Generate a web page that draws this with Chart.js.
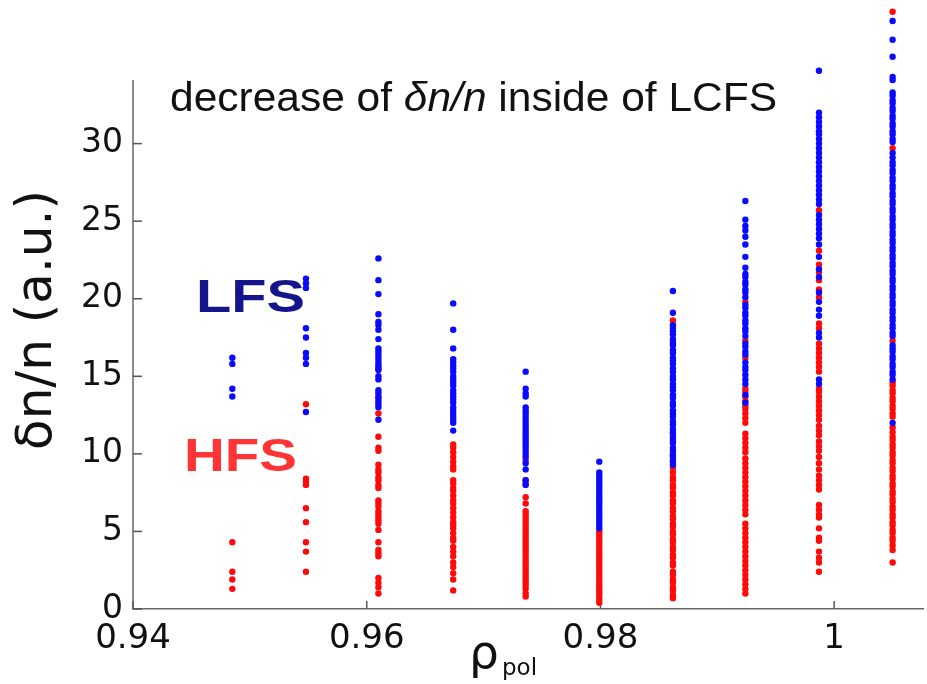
<!DOCTYPE html>
<html>
<head>
<meta charset="utf-8">
<script src="https://cdn.jsdelivr.net/npm/chart.js@4.4.1/dist/chart.umd.min.js"></script>
<style>
    html, body { margin: 0; padding: 0; background: #fff; }
    #wrap { width: 927px; height: 684px; position: relative; }
</style>
</head>
<body>
<div id="wrap"><canvas id="scatterChart"></canvas></div>
<script>
// rho_pol of each measurement column
const rhoPol = [0.9485, 0.9548, 0.9610, 0.9674, 0.9736, 0.9799, 0.9862, 0.9924, 0.9987, 1.0050];

// delta n / n, low field side (blue), one list per column
const lfsValues = [
    [16.2, 15.8, 14.2, 13.7],
    [21.3, 21.0, 20.7, 18.1, 17.5, 16.5, 16.2, 15.8, 12.7],
    [22.6, 21.2, 20.3, 19.0, 18.5, 18.3, 18.0, 17.4, 16.8, 16.6, 16.4, 16.2, 16.0, 15.8, 15.6, 15.4, 15.0, 14.8, 14.1, 13.9, 13.6, 13.4, 13.2, 13.0, 12.2],
    [19.7, 18.0, 16.8, 16.1, 15.9, 15.7, 15.5, 15.3, 15.0, 14.8, 14.6, 14.4, 14.1, 13.9, 13.7, 13.5, 13.3, 13.0, 12.8, 12.6, 12.4, 12.2, 12.0, 11.5],
    [15.3, 14.2, 13.9, 13.7, 13.0, 12.8, 12.6, 12.4, 12.2, 12.0, 11.8, 11.6, 11.4, 11.2, 11.0, 10.8, 10.6, 10.4, 10.2, 10.0, 9.8, 9.4, 9.0, 8.3, 8.0],
    [9.5, 8.8, 8.6, 8.4, 8.2, 8.0, 7.8, 7.6, 7.4, 7.2, 7.0, 6.8, 6.6, 6.4, 6.2, 6.0, 5.8, 5.6, 5.4, 5.2],
    [20.5, 19.1, 18.3, 18.1, 17.9, 17.7, 17.4, 17.2, 17.0, 16.7, 16.5, 16.2, 16.0, 15.8, 15.5, 15.3, 15.0, 14.8, 14.5, 14.3, 14.1, 13.8, 13.6, 13.3, 13.1, 12.8, 12.6, 12.4, 12.1, 11.9, 11.6, 11.4, 11.1, 10.9, 10.7, 10.4, 10.2, 9.9, 9.6, 9.3],
    [26.3, 25.1, 24.7, 24.4, 24.0, 23.5, 22.7, 22.0, 21.6, 21.4, 21.1, 20.9, 20.6, 20.4, 20.1, 19.6, 19.4, 19.1, 18.9, 18.6, 18.4, 18.1, 17.9, 17.6, 17.1, 16.9, 16.6, 16.4, 15.9, 15.6, 15.4, 15.1, 14.8, 14.5, 13.8, 13.3],
    [34.7, 32.0, 31.7, 31.4, 31.1, 30.8, 30.6, 30.3, 30.0, 29.7, 29.4, 29.1, 28.8, 28.5, 28.2, 27.9, 27.6, 27.3, 27.0, 26.7, 26.4, 26.1, 25.4, 25.1, 24.8, 24.5, 24.2, 23.9, 23.5, 22.7, 21.9, 21.4, 20.4, 19.8, 19.3, 18.9, 17.8, 17.5, 14.8, 14.5],
    [37.9, 36.7, 35.6, 34.3, 34.1, 33.3, 33.1, 32.8, 32.6, 32.3, 32.1, 31.8, 31.6, 31.3, 31.1, 30.8, 30.6, 30.3, 30.1, 29.4, 29.1, 28.8, 28.6, 28.3, 28.1, 27.8, 27.6, 27.3, 27.1, 26.8, 26.6, 26.3, 26.1, 25.8, 25.6, 25.3, 25.1, 24.8, 24.6, 24.3, 24.1, 23.8, 23.6, 23.3, 23.1, 22.8, 22.6, 22.3, 22.1, 21.8, 21.6, 21.3, 21.1, 20.8, 20.6, 20.3, 20.1, 19.8, 19.6, 19.3, 19.1, 18.8, 18.6, 18.3, 18.1, 17.8, 17.6, 17.0, 16.8, 16.6, 16.3, 16.1, 15.8, 15.6, 15.3, 15.1, 14.8, 12.0]
];

// delta n / n, high field side (red), one list per column
const hfsValues = [
    [4.3, 2.4, 1.9, 1.3],
    [13.2, 8.4, 8.2, 8.0, 6.5, 5.6, 4.3, 3.7, 2.4],
    [15.5, 13.7, 12.6, 11.1, 10.4, 10.2, 9.3, 9.0, 8.8, 8.5, 8.3, 8.0, 7.8, 7.0, 6.8, 6.6, 6.3, 6.1, 5.9, 5.7, 5.5, 5.1, 4.3, 3.8, 3.6, 3.4, 2.0, 1.7, 1.4, 1.0],
    [10.6, 10.4, 10.1, 9.8, 9.5, 9.2, 9.0, 8.3, 8.1, 7.8, 7.6, 7.3, 7.0, 6.8, 6.5, 6.2, 5.9, 5.6, 5.4, 5.2, 4.9, 4.6, 4.4, 4.0, 3.7, 3.4, 3.0, 2.7, 2.3, 1.9, 1.2],
    [9.6, 8.3, 8.1, 7.2, 6.8, 6.3, 6.1, 5.9, 5.7, 5.5, 5.3, 5.1, 4.9, 4.7, 4.5, 4.3, 4.1, 3.9, 3.7, 3.5, 3.3, 3.1, 2.9, 2.7, 2.5, 2.3, 2.1, 1.9, 1.7, 1.5, 1.3, 1.0, 0.8],
    [5.0, 4.8, 4.6, 4.4, 4.2, 4.0, 3.8, 3.6, 3.4, 3.2, 3.0, 2.8, 2.6, 2.4, 2.2, 2.0, 1.8, 1.6, 1.4, 1.2, 1.0, 0.8, 0.6, 0.4],
    [18.6, 11.3, 10.0, 9.8, 9.5, 9.1, 8.8, 8.5, 8.3, 8.0, 7.8, 7.5, 7.3, 7.0, 6.8, 6.5, 6.3, 6.0, 5.8, 5.5, 5.3, 5.0, 4.8, 4.5, 4.3, 4.0, 3.8, 3.5, 3.3, 3.0, 2.8, 2.4, 2.2, 1.9, 1.7, 1.4, 1.2, 0.9, 0.7],
    [19.8, 17.3, 16.2, 14.2, 14.0, 13.7, 13.4, 13.1, 12.9, 12.6, 12.3, 12.0, 11.3, 11.0, 10.7, 10.4, 10.1, 9.7, 9.4, 9.1, 8.8, 8.5, 8.2, 7.9, 7.6, 7.3, 7.0, 6.7, 6.4, 6.1, 5.5, 5.2, 4.9, 4.6, 4.3, 4.0, 3.7, 3.4, 3.1, 2.8, 2.5, 2.2, 1.9, 1.6, 1.3, 1.0],
    [25.7, 23.1, 22.2, 21.7, 21.2, 20.6, 20.1, 18.4, 18.1, 17.1, 16.8, 16.5, 16.2, 15.9, 15.6, 15.3, 14.2, 14.0, 13.7, 13.4, 13.1, 12.8, 12.5, 12.2, 11.8, 11.5, 11.2, 10.8, 10.5, 10.2, 9.8, 9.4, 9.0, 8.6, 8.3, 8.0, 7.7, 6.7, 6.4, 6.1, 5.9, 5.2, 4.6, 4.4, 3.7, 3.3, 3.0, 2.4],
    [38.5, 29.7, 17.3, 14.6, 14.4, 14.1, 13.9, 13.6, 13.4, 13.1, 12.9, 12.6, 12.4, 11.7, 11.4, 11.1, 10.9, 10.6, 10.4, 10.1, 9.9, 9.6, 9.4, 9.1, 8.9, 8.6, 8.4, 8.1, 7.9, 7.6, 7.4, 7.1, 6.9, 6.6, 6.4, 6.1, 5.9, 5.6, 5.4, 5.1, 4.9, 4.6, 4.4, 4.1, 3.8, 3.0]
];

const xTicks = [0.94, 0.96, 0.98, 1];
const yTicks = [0, 5, 10, 15, 20, 25, 30];
const yAxisTop = 34.1; // drawn axis line stops here, points go above it

const toPoints = (cols) => cols.flatMap((vals, i) => vals.map(v => ({ x: rhoPol[i], y: v })));

// text squeezed/stretched to a target width
function drawFitted(ctx, parts, x, baseline, targetWidth) {
    let total = 0;
    parts.forEach(p => { ctx.font = p.font; total += ctx.measureText(p.text).width; });
    ctx.save();
    ctx.translate(x, baseline);
    ctx.scale(targetWidth / total, 1);
    ctx.textAlign = 'left';
    ctx.textBaseline = 'alphabetic';
    let cx = 0;
    parts.forEach(p => {
        ctx.font = p.font;
        ctx.fillStyle = p.color;
        ctx.fillText(p.text, cx, 0);
        cx += ctx.measureText(p.text).width;
    });
    ctx.restore();
}

// keep chart area fixed: no extra room reserved for edge tick labels
const noEdgePadding = (scale) => {
    scale.paddingTop = 0;
    scale.paddingBottom = 0;
    scale.paddingLeft = 0;
    scale.paddingRight = 0;
};

const decorations = {
    id: 'decorations',
    beforeDatasetsDraw(chart) {
        const ctx = chart.ctx;
        const { x, y } = chart.scales;
        const left = x.getPixelForValue(x.min);
        const bottom = y.getPixelForValue(0);

        ctx.save();
        ctx.strokeStyle = '#666';
        ctx.lineWidth = 1.5;
        // left axis line, only up to yAxisTop
        ctx.beginPath();
        ctx.moveTo(left, bottom);
        ctx.lineTo(left, y.getPixelForValue(yAxisTop));
        ctx.stroke();

        // inward tick marks
        ctx.strokeStyle = '#555';
        xTicks.forEach(v => {
            const px = x.getPixelForValue(v);
            ctx.beginPath();
            ctx.moveTo(px, bottom);
            ctx.lineTo(px, bottom - 8);
            ctx.stroke();
        });
        yTicks.forEach(v => {
            const py = y.getPixelForValue(v);
            ctx.beginPath();
            ctx.moveTo(left, py);
            ctx.lineTo(left + 9, py);
            ctx.stroke();
        });
        ctx.restore();
    },
    afterDraw(chart) {
        const ctx = chart.ctx;

        // title
        const f = '"Liberation Sans", Arial, sans-serif';
        drawFitted(ctx, [
            { text: 'decrease of ', font: `41px ${f}`, color: '#111' },
            { text: 'δn/n', font: `italic 41px ${f}`, color: '#111' },
            { text: ' inside of LCFS', font: `41px ${f}`, color: '#111' }
        ], 170, 111, 607);

        // side labels
        drawFitted(ctx, [{ text: 'LFS', font: `bold 47px ${f}`, color: '#14148c' }], 196, 312, 109);
        drawFitted(ctx, [{ text: 'HFS', font: `bold 47px ${f}`, color: '#ff3535' }], 184, 471, 113);

        // y axis title
        ctx.save();
        ctx.translate(38, 320);
        ctx.rotate(-Math.PI / 2);
        ctx.font = '50px "DejaVu Sans"';
        ctx.fillStyle = '#111';
        ctx.textAlign = 'center';
        ctx.textBaseline = 'middle';
        ctx.fillText('δn/n (a.u.)', 0, 0);
        ctx.restore();

        // x axis title rho_pol
        ctx.save();
        ctx.fillStyle = '#111';
        ctx.textAlign = 'left';
        ctx.textBaseline = 'alphabetic';
        ctx.font = '47px "DejaVu Sans"';
        ctx.fillText('ρ', 469, 668);
        ctx.font = '23px "DejaVu Sans"';
        ctx.fillText('pol', 502, 675);
        ctx.restore();
    }
};

const ctx = document.getElementById('scatterChart').getContext('2d');
new Chart(ctx, {
    type: 'scatter',
    data: {
        datasets: [
            {
                label: 'LFS',
                data: toPoints(lfsValues),
                backgroundColor: '#0a0aff',
                pointRadius: 3.2,
                pointBorderWidth: 0,
                clip: false
            },
            {
                label: 'HFS',
                data: toPoints(hfsValues),
                backgroundColor: '#ff0a0a',
                pointRadius: 3.2,
                pointBorderWidth: 0,
                clip: false
            }
        ]
    },
    options: {
        responsive: true,
        maintainAspectRatio: false,
        animation: false,
        layout: { padding: { top: 3, right: 0, bottom: 0, left: 0 } },
        scales: {
            x: {
                type: 'linear',
                min: 0.94,
                max: 1.0076,
                afterFit: (scale) => { scale.height = 75; noEdgePadding(scale); },
                afterBuildTicks: (scale) => { scale.ticks = xTicks.map(v => ({ value: v })); },
                grid: { display: false, drawTicks: false },
                border: { display: true, color: '#666', width: 1.5 },
                ticks: {
                    padding: 10,
                    color: '#111',
                    font: { family: 'DejaVu Sans', size: 34 },
                    callback: (v) => String(+v.toFixed(2))
                }
            },
            y: {
                min: 0,
                max: 39,
                afterFit: (scale) => { scale.width = 133; noEdgePadding(scale); },
                afterBuildTicks: (scale) => { scale.ticks = yTicks.map(v => ({ value: v })); },
                grid: { display: false, drawTicks: false },
                border: { display: false },
                ticks: {
                    padding: 10,
                    color: '#111',
                    font: { family: 'DejaVu Sans', size: 33 }
                }
            }
        },
        plugins: {
            legend: { display: false },
            tooltip: { enabled: false }
        }
    },
    plugins: [decorations]
});
</script>
</body>
</html>
